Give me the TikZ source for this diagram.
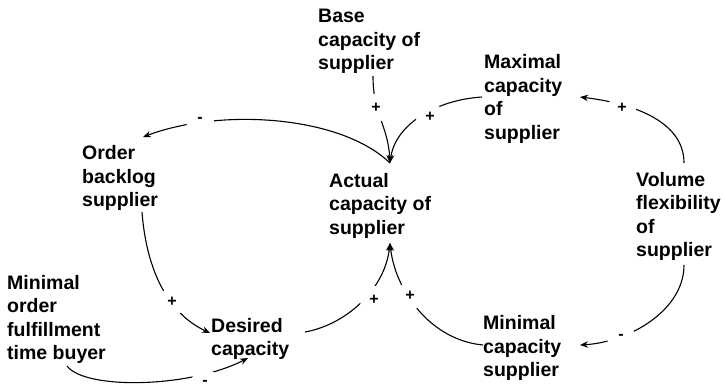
\documentclass[tikz,border=0pt]{standalone}
\usepackage{fontspec}
\setmainfont{Liberation Sans}
\usetikzlibrary{arrows.meta}
\begin{document}
\begin{tikzpicture}[x=1pt,y=-1pt,
  lbl/.style={anchor=base west, align=left, inner sep=0pt, font=\fontsize{19.5}{23.5}\selectfont\bfseries},
  sgn/.style={circle, fill=white, inner sep=0pt, minimum size=28pt, font=\fontsize{16}{16}\selectfont\bfseries},
  link/.style={line width=1.1pt, -{Stealth[length=8pt,width=6.5pt]}},
]
\useasboundingbox (0,0) rectangle (725,390);
% variables (anchor = baseline of the last line)
\node[lbl] (base) at (318,70) {Base\\capacity of\\supplier};
\node[lbl] (maxcap) at (484,139.5) {Maximal\\capacity\\of\\supplier};
\node[lbl] (backlog) at (82,206.5) {Order\\backlog\\supplier};
\node[lbl] (actual) at (329,234) {Actual\\capacity of\\supplier};
\node[lbl] (volume) at (636,256.5) {Volume\\flexibility\\of\\supplier};
\node[lbl] (minorder) at (7,359.5) {Minimal\\order\\fulfillment\\time buyer};
\node[lbl] (desired) at (211,355.5) {Desired\\capacity};
\node[lbl] (mincap) at (483,376.5) {Minimal\\capacity\\supplier};
% connector end points
\coordinate (actTop) at (390,163);
\coordinate (actBot) at (390,243);
\coordinate (baseOut) at (373,76);
\coordinate (maxOut) at (482,97);
\coordinate (maxIn) at (580,97);
\coordinate (volTop) at (684,163);
\coordinate (volBot) at (684,265);
\coordinate (minIn) at (580,345);
\coordinate (minOut) at (483,345);
\coordinate (desOut) at (305,332);
\coordinate (desIn) at (210,333);
\coordinate (desInB) at (248,358);
\coordinate (backIn) at (143,137);
\coordinate (backOut) at (142,212);
\coordinate (moOut) at (67,366);
% connectors
\draw[link] (actTop) .. controls (340,115) and (220,108) .. (backIn);
\draw[link] (baseOut) .. controls (373,115) and (388,125) .. (actTop);
\draw[link] (maxOut) .. controls (435,100) and (395,125) .. (actTop);
\draw[link] (volTop) .. controls (684,120) and (630,103) .. (maxIn);
\draw[link] (volBot) .. controls (684,310) and (630,342) .. (minIn);
\draw[link] (minOut) .. controls (430,340) and (395,290) .. (actBot);
\draw[link] (desOut) .. controls (345,325) and (385,290) .. (actBot);
\draw[link] (backOut) .. controls (146,265) and (165,312) .. (desIn);
\draw[link] (moOut) .. controls (85,390) and (190,388) .. (desInB);
% polarity signs
\node[sgn] (sL) at (200,120) {-};
\node[sgn] (sB) at (376,108) {+};
\node[sgn] (sC) at (430,117) {+};
\node[sgn] (sD) at (622,108) {+};
\node[sgn] (sE) at (621,337) {-};
\node[sgn] (sF) at (410,296) {+};
\node[sgn] (sG) at (374,300) {+};
\node[sgn] (sH) at (172,302) {+};
\node[sgn] (sI) at (205,383) {-};
\end{tikzpicture}
\end{document}
